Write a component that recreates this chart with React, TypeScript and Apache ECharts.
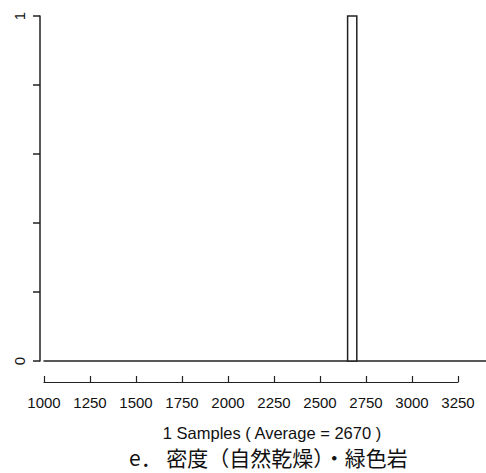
import React, { useEffect, useRef } from "react";
import * as echarts from "echarts";

// Histogram bins: [start, end] and counts
const binStarts = [2650];
const binEnds = [2700];
const binCounts = [1];

const xTicksMin = 1000;
const xTicksMax = 3250;
const xTickStep = 250;

const yMin = 0;
const yMax = 1;
const yTickStep = 0.2;
const yLabelShown = [0, 1];

const xTitle = "1 Samples ( Average = 2670 )";
const chartTitle = "e． 密度（自然乾燥）・緑色岩";

export default function App() {
  const ref = useRef<HTMLDivElement>(null);
  useEffect(() => {
    if (!ref.current) return;
    const chart = echarts.init(ref.current, undefined, { renderer: "svg" });
    const W = 486;
    const pxPerUnit = 414 / (xTicksMax - xTicksMin);
    const plotLeft = 44;
    const plotRight = 486;
    const plotMax = xTicksMin + (plotRight - plotLeft) / pxPerUnit;
    const data = binStarts.map((s, i) => [s, binEnds[i], binCounts[i]]);
    const ink = "#222";
    const latin = "Liberation Sans, Arial, sans-serif";
    chart.setOption({
      animation: false,
      backgroundColor: "#fff",
      textStyle: { fontFamily: latin },
      grid: [
        { left: plotLeft, right: W - plotRight, top: 16, bottom: 473 - 361 },
        { left: plotLeft, width: 414, top: 372, bottom: 473 - 382 },
      ],
      xAxis: [
        {
          type: "value",
          gridIndex: 0,
          min: xTicksMin,
          max: plotMax,
          axisLine: { show: true, lineStyle: { color: ink, width: 1.5 } },
          axisTick: { show: false },
          axisLabel: { show: false },
          splitLine: { show: false },
        },
        {
          type: "value",
          gridIndex: 1,
          min: xTicksMin,
          max: xTicksMax,
          interval: xTickStep,
          axisLine: { show: true, lineStyle: { color: ink, width: 1.2 } },
          axisTick: { show: true, inside: true, length: 6, lineStyle: { color: ink, width: 1.2 } },
          axisLabel: {
            show: true,
            color: "#111",
            fontSize: 15,
            margin: 13,
            fontFamily: latin,
            formatter: (v: number) => String(v),
          },
          splitLine: { show: false },
          name: xTitle,
          nameLocation: "middle",
          nameGap: 42,
          nameTextStyle: { color: "#111", fontSize: 16.5, fontFamily: latin, padding: [0, 0, 0, 42] },
        },
      ],
      yAxis: [
        {
          type: "value",
          gridIndex: 0,
          min: yMin,
          max: yMax,
          interval: yTickStep,
          offset: 4,
          axisLine: { show: true, lineStyle: { color: ink, width: 1.5 } },
          axisTick: { show: true, length: 7, lineStyle: { color: ink, width: 1.5 } },
          axisLabel: {
            show: true,
            rotate: 90,
            margin: 21,
            align: "center",
            verticalAlign: "middle",
            color: "#111",
            fontSize: 15,
            formatter: (v: number) => (yLabelShown.some((s) => Math.abs(s - v) < 1e-9) ? String(v) : ""),
          },
          splitLine: { show: false },
        },
        {
          type: "value",
          gridIndex: 1,
          show: false,
          min: 0,
          max: 1,
        },
      ],
      graphic: [
        {
          type: "text",
          left: 129,
          top: 446,
          style: {
            text: chartTitle,
            font: '21px "Noto Sans CJK JP", sans-serif',
            lineHeight: 22,
            fill: "#111",
          },
        },
      ],
      series: [
        {
          type: "custom",
          xAxisIndex: 0,
          yAxisIndex: 0,
          data,
          renderItem: (params: any, api: any) => {
            const p0 = api.coord([api.value(0), 0]);
            const p1 = api.coord([api.value(1), api.value(2)]);
            return {
              type: "rect",
              shape: { x: p0[0], y: p1[1], width: p1[0] - p0[0], height: p0[1] - p1[1] },
              style: { fill: "#fff", stroke: ink, lineWidth: 1.5 },
            };
          },
        },
      ],
    });
    return () => chart.dispose();
  }, []);
  return (
    <div
      ref={ref}
      style={{ position: "fixed", left: 0, top: 0, width: 486, height: 473, background: "#fff" }}
    />
  );
}
